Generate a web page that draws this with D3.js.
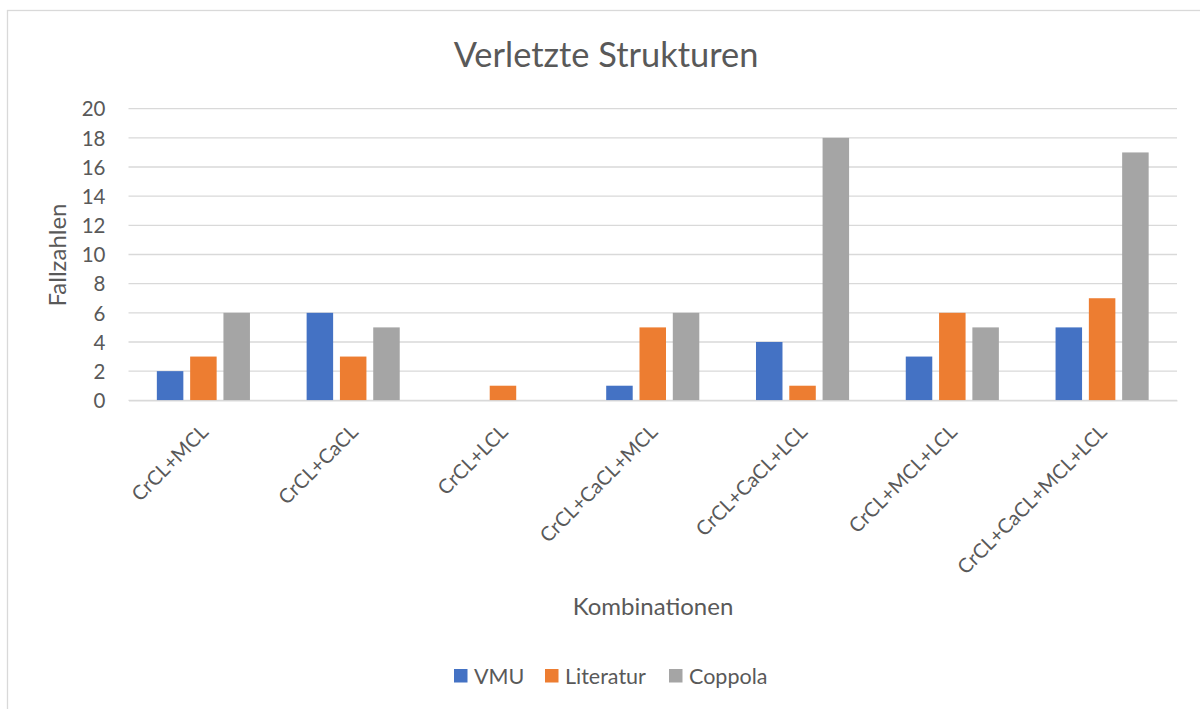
<!DOCTYPE html>
<html><head><meta charset="utf-8">
<script src="https://cdn.jsdelivr.net/npm/d3@7"></script>
<style>body{margin:0;background:#fff;}svg{display:block;}text{font-family:Lato,"Open Sans",sans-serif;fill:#595959;}</style>
</head><body><svg id="c" width="1200" height="709"></svg>
<script>
const categories = ["CrCL+MCL","CrCL+CaCL","CrCL+LCL","CrCL+CaCL+MCL","CrCL+CaCL+LCL","CrCL+MCL+LCL","CrCL+CaCL+MCL+LCL"];
const seriesNames = ["VMU","Literatur","Coppola"];
const vmu = [2,6,0,1,4,3,5];
const literatur = [3,3,1,5,1,6,7];
const coppola = [6,5,0,6,18,5,17];
const yTicks = [0,2,4,6,8,10,12,14,16,18,20];
const colors = ["#4472C4","#ED7D31","#A5A5A5"];
const seriesValues = [vmu, literatur, coppola];

const svg = d3.select("#c");
svg.append("rect").attr("x",7.5).attr("y",10.5).attr("width",1300).attr("height",800)
  .attr("fill","none").attr("stroke","#d9d9d9").attr("stroke-width",1.3);

const pL = 128.5, pR = 1177, pT = 108.7, pB = 400.3;
const x = d3.scaleBand().domain(categories).range([pL,pR]).paddingInner(0).paddingOuter(0);
const y = d3.scaleLinear().domain([0,20]).range([pB,pT]);

// gridlines
svg.append("g").selectAll("line").data(yTicks).join("line")
  .attr("x1",pL).attr("x2",pR).attr("y1",d=>y(d)).attr("y2",d=>y(d))
  .attr("stroke","#d9d9d9").attr("stroke-width",1.3);

// y axis labels
const yAxis = d3.axisLeft(y).tickValues(yTicks).tickSize(0).tickPadding(0);
const gy = svg.append("g").attr("transform",`translate(${pL-23},0)`).call(yAxis);
gy.select(".domain").remove();
gy.selectAll("text").attr("font-size",20.5).style("font-family","Lato").attr("fill","#595959").attr("dy","0.35em");

// bars
const bw = 26.5, step = 33.3;
const x1 = d3.scaleBand().domain(seriesNames).range([-step*1.5, step*1.5]);
const groups = svg.append("g").selectAll("g").data(categories).join("g")
  .attr("transform",d=>`translate(${x(d)+x.bandwidth()/2},0)`);
groups.selectAll("rect").data((c,i)=>seriesNames.map((s,j)=>({s, v:seriesValues[j][i], j})))
  .join("rect")
  .attr("x",d=>x1(d.s)+(step-bw)/2).attr("width",bw)
  .attr("y",d=>y(d.v)).attr("height",d=>y(0)-y(d.v))
  .attr("fill",d=>colors[d.j]);

// x labels
const xAxis = d3.axisBottom(x).tickSize(0).tickPadding(0);
const gx = svg.append("g").attr("transform",`translate(0,${pB})`).call(xAxis);
gx.select(".domain").attr("stroke","#d9d9d9").attr("stroke-width",1.3);
gx.selectAll("text").attr("font-size",20).style("font-family","Lato").attr("fill","#595959")
  .attr("text-anchor","end").attr("dy",null).attr("y",0)
  .attr("transform","translate(6,33) rotate(-45)");

// title
svg.append("text").attr("x",606).attr("y",67).attr("text-anchor","middle").attr("font-size",34.4).text("Verletzte Strukturen");
// axis titles
svg.append("text").attr("x",653).attr("y",615).attr("text-anchor","middle").attr("font-size",24).text("Kombinationen");
svg.append("text").attr("transform","translate(66,255) rotate(-90)").attr("text-anchor","middle").attr("font-size",24).text("Fallzahlen");

// legend
const legendX = [454,545,669];
const lg = svg.append("g").selectAll("g").data(seriesNames).join("g")
  .attr("transform",(d,i)=>`translate(${legendX[i]},669)`);
lg.append("rect").attr("width",13.5).attr("height",13.5).attr("fill",(d,i)=>colors[i]);
lg.append("text").attr("x",20).attr("y",14.8).attr("font-size",21.5).text(d=>d);
</script></body></html>
